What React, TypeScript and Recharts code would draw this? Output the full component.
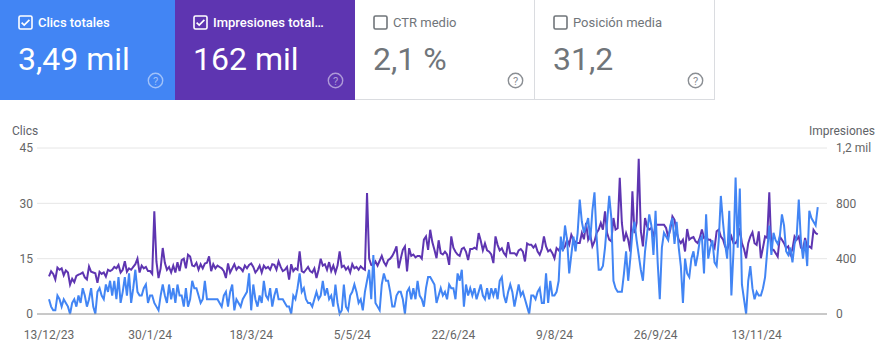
import React from 'react';
import { LineChart, Line, XAxis, YAxis, CartesianGrid } from 'recharts';

// Daily clicks (left axis), 13/12/23 onwards
const clicks: number[] = [
  4, 2, 1, 1, 5, 4, 2, 4, 3, 2,
  0, 3, 4, 2, 5, 3, 7, 5, 2, 4,
  7, 2, 0, 6, 7, 5, 4, 8, 6, 9,
  5, 9, 4, 10, 3, 6, 10, 5, 11, 3,
  7, 12, 6, 5, 5, 7, 8, 3, 5, 5,
  3, 2, 1, 5, 8, 5, 3, 8, 4, 7,
  3, 8, 5, 5, 2, 7, 2, 4, 9, 7,
  7, 5, 3, 4, 9, 4, 4, 4, 4, 4,
  4, 3, 2, 5, 6, 2, 6, 8, 1, 4,
  3, 2, 4, 5, 6, 11, 1, 8, 4, 2,
  5, 3, 9, 5, 4, 7, 2, 5, 7, 4,
  4,
  4, 3, 2, 2, 0, 5, 4, 7, 11, 6,
  7, 4, 3, 3, 2, 4, 6, 4, 5, 9,
  5, 7, 4, 5, 2, 8, 3, 0, 1, 8,
  2, 1, 5, 6, 8, 6, 3, 4, 1, 6,
  9, 12, 4, 16, 3, 2, 1, 8, 11, 9,
  9, 6, 2, 2, 5, 6, 6, 4, 0, 6,
  7, 4, 7, 4, 9, 5, 4, 2, 7, 10,
  10, 9, 8, 3, 5, 7, 5, 6, 4, 8,
  7, 7, 4, 11, 9, 12, 2, 8, 5, 7,
  5, 7, 4, 6, 8, 5, 4, 7, 4, 7,
  5, 7, 4, 9, 10, 5, 3, 6, 8, 6,
  2, 5, 8, 5, 6, 4, 2, 0, 5, 5, 4,
  6, 7, 3, 3, 11, 3, 9, 5, 5, 6,
  9, 21, 17, 24, 20, 11, 16, 21, 17, 22,
  31, 25, 22, 24, 26, 20, 28, 33, 21, 12,
  12, 13, 18, 25, 32, 26, 9, 7, 6, 6,
  6, 11, 17, 9, 15, 22, 25, 20, 16, 12,
  9, 17, 22, 27, 24, 16, 28, 14, 4, 18,
  22, 21, 20, 24, 26, 19, 25, 18, 13, 3,
  15, 11, 10, 15, 17, 13, 16, 20, 21, 11,
  27, 15, 18, 20, 14, 13, 20, 32, 25, 19,
  15, 28, 5, 17, 37, 18, 34, 8, 4, 0,
  9, 13, 7, 4, 6, 5, 5, 7, 10, 17, 24,
  16, 22, 20, 19, 21, 27, 24, 17, 16, 18,
  14, 19, 21, 31, 20, 15, 20, 13, 28, 26,
  25, 24, 29,
];

// Daily impressions (right axis)
const impressions: number[] = [
  272, 309, 290, 250, 335, 320, 330, 280, 315, 300,
  212, 255, 230, 275, 285, 290, 300, 265, 250, 344,
  305, 300, 295, 225, 305, 290, 300, 270, 320, 310,
  320, 340, 330, 355, 300, 320, 381, 305, 330, 320,
  340, 360, 400, 300, 350, 330, 340, 310, 310, 290,
  742, 380, 260, 330, 477, 370, 320, 340, 300, 350,
  300, 375, 310, 390, 400, 330, 428, 415, 350, 345,
  370, 320, 360, 330, 365, 370, 417, 310, 360, 330,
  350, 340, 330, 310, 260, 365, 300, 330, 360, 320,
  340, 330, 310, 350, 330, 355, 365, 340, 300, 320,
  350, 300, 350, 330, 340, 320, 360, 355, 320, 381,
  340,
  310, 320, 340, 248, 360, 310, 330, 320, 453, 310,
  300, 320, 340, 310, 300, 330, 260, 320, 400, 350,
  360, 320, 375, 310, 350, 300, 350, 453, 340, 350,
  320, 340, 300, 360, 330, 340, 320, 345, 330, 320,
  875, 400, 355, 350, 380, 350, 385, 420, 375, 350,
  390, 400, 420, 450, 489, 331, 400, 464, 489, 307,
  476, 420, 430, 410, 420, 420, 400, 537, 560, 464,
  609, 520, 464, 403, 533, 440, 430, 450, 430, 355,
  561, 480, 450, 430, 420, 470, 480, 450, 390, 470,
  470, 480, 470, 585, 530, 460, 510, 460, 450, 430,
  368, 561, 500, 460, 475, 440, 420, 520, 440, 440,
  440, 425, 460, 470, 450, 380, 510, 500, 501, 480, 500,
  452, 428, 470, 561, 489, 452, 464, 440, 403, 476,
  460, 489, 464, 489, 537, 501, 573, 537, 520, 513,
  513, 585, 540, 658, 537, 573, 489, 525, 585, 610,
  658, 610, 742, 585, 537, 525, 694, 610, 620, 984,
  658, 525, 585, 537, 452, 887, 585, 658, 1122, 600,
  489, 694, 632, 610, 622, 556, 646, 646, 646, 646,
  646, 622, 556, 610, 706, 680, 590, 537, 513, 537,
  452, 614, 537, 550, 556, 525, 513, 550, 610, 550,
  560, 537, 537, 501, 476, 598, 610, 560, 540, 489,
  464, 512, 560, 512, 512, 540, 621, 512, 470, 403,
  512, 560, 590, 512, 500, 597, 403, 480, 560, 550, 880,
  464, 464, 440, 415, 560, 537, 512, 476, 489, 430,
  470, 560, 537, 560, 480, 464, 550, 480, 489, 477,
  608, 585, 575,
];

const tickDays = [0, 48, 96, 144, 192, 240, 288, 336];
const tickLabels = ['13/12/23', '30/1/24', '18/3/24', '5/5/24', '22/6/24', '9/8/24', '26/9/24', '13/11/24'];
const clickTicks = [0, 15, 30, 45];
const impressionTicks = [0, 400, 800, 1200];

const cardLabels = ['Clics totales', 'Impresiones total…', 'CTR medio', 'Posición media'];
const cardValues = ['3,49 mil', '162 mil', '2,1 %', '31,2'];

const data = clicks.map((c, i) => ({ day: i, clicks: c, impressions: impressions[i] }));

const FONT = 'Roboto, "Noto Sans", Arial, sans-serif';

function CheckBox({ color, checked }: { color: string; checked: boolean }) {
  return (
    <svg width={15} height={15} viewBox="0 0 15 15" style={{ position: 'absolute', left: 18, top: 15 }}>
      <rect x={1} y={1} width={13} height={13} rx={1.5} fill="none" stroke={color} strokeWidth={1.6} />
      {checked && <path d="M3.6 7.6 L6.2 10 L11.4 4.8" fill="none" stroke={color} strokeWidth={1.7} />}
    </svg>
  );
}

function Help({ color, left }: { color: string; left: number }) {
  return (
    <svg width={17} height={17} viewBox="0 0 17 17" style={{ position: 'absolute', left, top: 72 }}>
      <circle cx={8.5} cy={8.5} r={7.2} fill="none" stroke={color} strokeWidth={1.4} />
      <text x={8.5} y={12.5} textAnchor="middle" fontSize={11} fontFamily={FONT} fill={color}>?</text>
    </svg>
  );
}

function Card(props: {
  left: number; width: number; bg: string; fg: string; label: string; value: string;
  checked: boolean; help: string; bordered: boolean;
}) {
  const { left, width, bg, fg, label, value, checked, help, bordered } = props;
  return (
    <div
      style={{
        position: 'absolute', left, top: 0, width, height: 100, background: bg,
        boxSizing: 'border-box',
        borderRight: bordered ? '1px solid #dadce0' : 'none',
        borderBottom: bordered ? '1px solid #dadce0' : 'none',
        overflow: 'hidden',
      }}
    >
      <CheckBox color={fg} checked={checked} />
      <div
        style={{
          position: 'absolute', left: 38, top: 16, fontSize: 13, lineHeight: '13px',
          fontWeight: checked ? 500 : 400, color: fg, whiteSpace: 'nowrap',
        }}
      >
        {label}
      </div>
      <div
        style={{
          position: 'absolute', left: 18, top: 43, fontSize: 32, lineHeight: '32px',
          fontWeight: 400, color: fg, whiteSpace: 'nowrap',
        }}
      >
        {value}
      </div>
      <Help color={help} left={width - 28} />
    </div>
  );
}

export default function App() {
  return (
    <div style={{ position: 'absolute', left: 0, top: 0, width: 883, height: 355, background: '#fff', fontFamily: FONT, overflow: 'hidden' }}>
      <Card left={0} width={175} bg="#4285f4" fg="#ffffff" label={cardLabels[0]} value={cardValues[0]} checked help="rgba(255,255,255,0.5)" bordered={false} />
      <Card left={175} width={180} bg="#5e35b1" fg="#ffffff" label={cardLabels[1]} value={cardValues[1]} checked help="rgba(255,255,255,0.5)" bordered={false} />
      <Card left={355} width={180} bg="#ffffff" fg="#70757a" label={cardLabels[2]} value={cardValues[2]} checked={false} help="#8a8e93" bordered />
      <Card left={535} width={180} bg="#ffffff" fg="#70757a" label={cardLabels[3]} value={cardValues[3]} checked={false} help="#8a8e93" bordered />

      <div style={{ position: 'absolute', left: 12, top: 125, fontSize: 12, lineHeight: '12px', color: '#5f6368' }}>Clics</div>
      <div style={{ position: 'absolute', right: 8, top: 125, fontSize: 12, lineHeight: '12px', color: '#5f6368' }}>Impresiones</div>

      <div style={{ position: 'absolute', left: 0, top: 115 }}>
        <LineChart width={883} height={240} data={data} margin={{ top: 33, right: 0, left: 0, bottom: 11 }} style={{ fontFamily: FONT }}>
          <CartesianGrid yAxisId="left" vertical={false} stroke="#e6e6e6" strokeWidth={1} />
          <XAxis
            type="number"
            dataKey="day"
            domain={[-5.7, 369.4]}
            allowDataOverflow
            ticks={tickDays}
            interval={0}
            tickFormatter={(v: number) => tickLabels[tickDays.indexOf(v)] ?? ''}
            axisLine={{ stroke: '#9e9e9e' }}
            tickLine={false}
            tickSize={0}
            tickMargin={16}
            height={30}
            tick={{ fill: '#666666', fontSize: 12 }}
          />
          <YAxis
            yAxisId="left"
            domain={[0, 45]}
            ticks={clickTicks}
            interval={0}
            axisLine={false}
            tickLine={false}
            tickSize={0}
            tickMargin={4}
            width={37}
            tick={{ fill: '#666666', fontSize: 12 }}
          />
          <YAxis
            yAxisId="right"
            orientation="right"
            domain={[0, 1200]}
            ticks={impressionTicks}
            interval={0}
            tickFormatter={(v: number) => (v >= 1000 ? `${String(v / 1000).replace('.', ',')} mil` : String(v))}
            axisLine={false}
            tickLine={false}
            tickSize={0}
            tickMargin={9}
            width={56}
            tick={{ fill: '#666666', fontSize: 12 }}
          />
          <Line yAxisId="right" type="linear" dataKey="impressions" stroke="#5e35b1" strokeWidth={2} dot={false} activeDot={false} isAnimationActive={false} />
          <Line yAxisId="left" type="linear" dataKey="clicks" stroke="#4285f4" strokeWidth={2} dot={false} activeDot={false} isAnimationActive={false} />
        </LineChart>
      </div>
    </div>
  );
}
